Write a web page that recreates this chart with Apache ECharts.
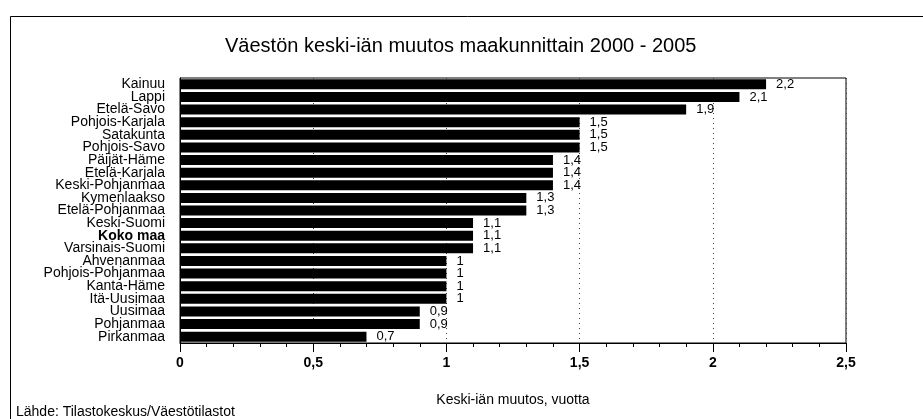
<!DOCTYPE html>
<html>
<head>
<meta charset="utf-8">
<script src="https://cdn.jsdelivr.net/npm/echarts@6/dist/echarts.min.js"></script>
<style>
html,body{margin:0;padding:0;background:#fff;}
#chart{width:923px;height:419px;}
</style>
</head>
<body>
<div id="chart"></div>
<script>
const categories = ['Kainuu','Lappi','Etelä-Savo','Pohjois-Karjala','Satakunta','Pohjois-Savo','Päijät-Häme','Etelä-Karjala','Keski-Pohjanmaa','Kymenlaakso','Etelä-Pohjanmaa','Keski-Suomi','Koko maa','Varsinais-Suomi','Ahvenanmaa','Pohjois-Pohjanmaa','Kanta-Häme','Itä-Uusimaa','Uusimaa','Pohjanmaa','Pirkanmaa'];
const values = [2.2,2.1,1.9,1.5,1.5,1.5,1.4,1.4,1.4,1.3,1.3,1.1,1.1,1.1,1,1,1,1,0.9,0.9,0.7];
const boldCategory = 'Koko maa';
const titleText = 'Väestön keski-iän muutos maakunnittain 2000 - 2005';
const axisName = 'Keski-iän muutos, vuotta';
const sourceText = 'Lähde: Tilastokeskus/Väestötilastot';

const fmt = v => String(v).replace('.', ',');
const font = '"Liberation Sans", Arial, sans-serif';

const chart = echarts.init(document.getElementById('chart'), null, {renderer:'canvas'});
chart.setOption({
  animation: false,
  backgroundColor: '#fff',
  textStyle: {fontFamily: font},
  title: {
    text: titleText,
    left: 225, top: 36,
    padding: 0,
    textStyle: {fontFamily: font, fontSize: 20, fontWeight: 'normal', color: '#000'}
  },
  graphic: [
    {type:'rect', left: 8, top: 14, shape:{width: 1000, height: 500}, style:{fill:'none', stroke:'#000', lineWidth:1}, silent:true},
    {type:'text', left: 16, top: 405, style:{text: sourceText, font: '14px ' + font, fill:'#000'}}
  ],
  grid: {left: 180, right: 77, top: 78, bottom: 76, show: true, borderColor: '#000', borderWidth: 1, containLabel: false},
  xAxis: {
    type: 'value', min: 0, max: 2.5, interval: 0.5,
    name: axisName, nameLocation: 'middle', nameGap: 50,
    nameTextStyle: {fontFamily: font, fontSize: 14, color: '#000'},
    axisLine: {show: true, lineStyle: {color: '#000', width: 1}},
    axisTick: {show: true, length: 9, lineStyle: {color: '#000'}},
    minorTick: {show: true, splitNumber: 5, length: 4, lineStyle: {color: '#000'}},
    axisLabel: {fontFamily: font, fontSize: 14, fontWeight: 'bold', color: '#000', margin: 13, formatter: v => fmt(v)},
    splitLine: {show: true, lineStyle: {color: '#444', type: [1, 4], width: 1}}
  },
  yAxis: {
    type: 'category', inverse: true,
    data: categories.map(c => c === boldCategory ? {value: c, textStyle: {fontWeight: 'bold'}} : c),
    axisLine: {show: true, lineStyle: {color: '#000'}},
    axisTick: {show: false},
    axisLabel: {fontFamily: font, fontSize: 14, color: '#000', margin: 15, interval: 0}
  },
  series: [{
    type: 'bar',
    data: values,
    barWidth: 10,
    itemStyle: {color: '#000'},
    label: {show: true, position: 'right', distance: 10, fontFamily: font, fontSize: 13, color: '#000', formatter: p => fmt(p.value)}
  }]
});
</script>
</body>
</html>
